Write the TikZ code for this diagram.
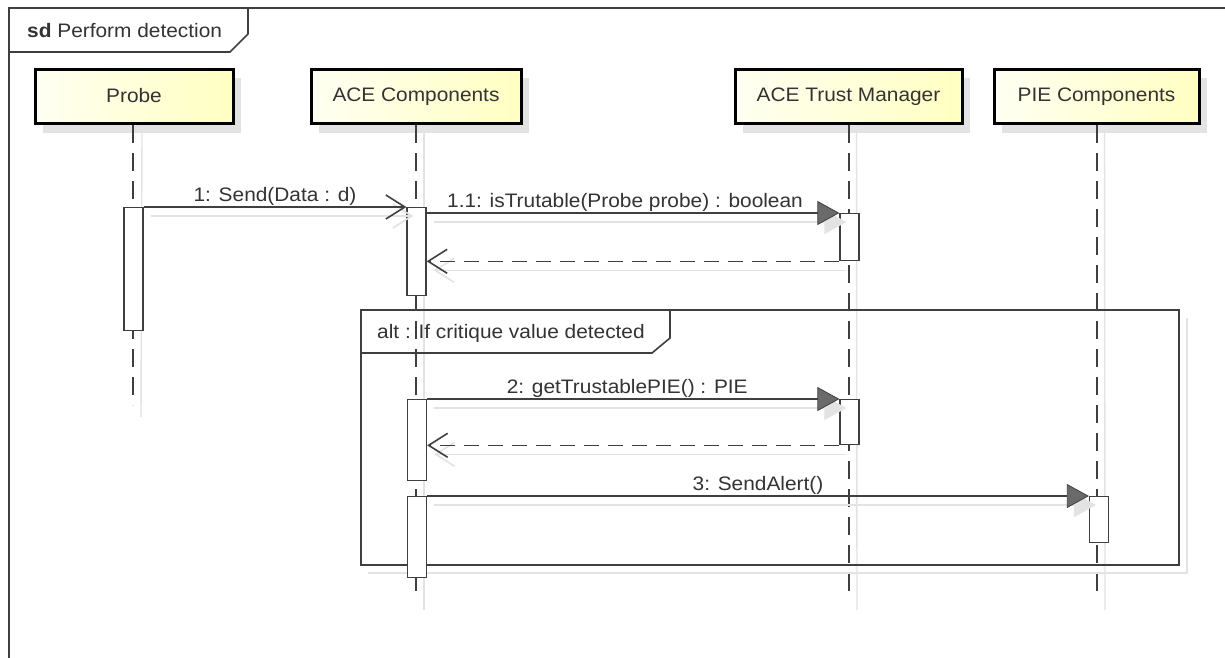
\documentclass[tikz,border=0pt]{standalone}
\usepackage{fontspec}
\setmainfont[FakeStretch=1.07]{Liberation Sans}
\usetikzlibrary{arrows.meta}

\definecolor{ink}{HTML}{3F3F3F}
\definecolor{txt}{HTML}{333333}
\definecolor{ghost}{HTML}{E3E3E3}
\definecolor{headL}{HTML}{FFFFF2}
\definecolor{headR}{HTML}{FFFFC2}
\definecolor{tipfill}{HTML}{6A6A6A}

\tikzset{
  lbl/.style={font=\fontsize{19.5}{22}\selectfont, text=txt, inner sep=0pt},
  head/.style={draw=black, line width=3pt, left color=headL, right color=headR,
    minimum height=54, inner sep=0pt, lbl},
  headshadow/.style={fill=ghost, draw=none},
  life/.style={draw=ink, line width=1.6pt, dash pattern=on 18pt off 10pt},
  lifeshadow/.style={draw=ghost, line width=1.4pt},
  act/.style={draw=ink, line width=1.3pt, fill=white, minimum width=19,
    inner sep=0pt, anchor=north},
  call/.style={draw=ink, line width=1.6pt,
    -{Triangle[length=22pt,width=24pt,fill=tipfill,color=ink,line width=0.8pt]}},
  callshadow/.style={draw=ghost, line width=1.6pt,
    -{Triangle[length=22pt,width=24pt,fill=ghost,color=ghost]},
    transform canvas={shift={(7,9)}}},
  send/.style={draw=ink, line width=1.6pt, -{Straight Barb[length=19pt,width=24pt]}},
  sendshadow/.style={draw=ghost, line width=1.6pt, -{Straight Barb[length=19pt,width=24pt]},
    transform canvas={shift={(7,9)}}},
  reply/.style={draw=ink, line width=1.6pt, dash pattern=on 15pt off 9pt,
    -{Straight Barb[length=19pt,width=24pt]}},
  replyshadow/.style={draw=ghost, line width=1.6pt, -{Straight Barb[length=19pt,width=24pt]},
    transform canvas={shift={(7,9)}}},
  msglbl/.style={lbl, midway, anchor=base, yshift=6pt},
  frameline/.style={draw=ink, line width=1.6pt},
  frameshadow/.style={draw=ghost, line width=1.4pt},
}

\begin{document}
\begin{tikzpicture}[x=1pt, y=-1pt]
\useasboundingbox (0,0) rectangle (1225,657);
\clip (0,0) rectangle (1225,657);
\fill[white] (0,0) rectangle (1225,657);

% outer interaction frame and its name tab
\node[frameline, anchor=north west, minimum width=1218, minimum height=700, inner sep=0pt]
  (sdframe) at (8,7) {};
\draw[frameline] (8,52) -- (230,52) -- (248,34) -- (248,7);
\node[lbl, anchor=base west] (sdname) at (27,37) {\textbf{sd} Perform detection};

% lifeline heads: shadows first
\fill[headshadow] (43,78) rectangle (241,133);
\fill[headshadow] (319,78) rectangle (529,133);
\fill[headshadow] (743,78) rectangle (970,133);
\fill[headshadow] (1002,78) rectangle (1207,133);

\node[head, minimum width=198] (probe) at (134,96.5) {\raisebox{2pt}{Probe}};
\node[head, minimum width=210] (ace)   at (416,96.5) {\raisebox{2pt}{ACE Components}};
\node[head, minimum width=227] (tm)    at (848.5,96.5) {\raisebox{2pt}{ACE Trust Manager}};
\node[head, minimum width=205] (pie)   at (1096.5,96.5) {\raisebox{2pt}{PIE Components}};

% lifeline ends
\coordinate (probeEnd) at (133,405);
\coordinate (aceEnd)   at (416,598);
\coordinate (tmEnd)    at (849,598);
\coordinate (pieEnd)   at (1097,598);

% lifeline shadows
\draw[lifeshadow] ([xshift=8pt,yshift=-8pt]probe.south) -- ([xshift=8pt,yshift=-12pt]probeEnd);
\draw[lifeshadow] ([xshift=8pt,yshift=-8pt]ace.south) -- ([xshift=8pt,yshift=-12pt]aceEnd);
\draw[lifeshadow] ([xshift=8pt,yshift=-8pt]tm.south) -- ([xshift=8pt,yshift=-12pt]tmEnd);
\draw[lifeshadow] ([xshift=8pt,yshift=-8pt]pie.south) -- ([xshift=8pt,yshift=-12pt]pieEnd);

% lifelines
\draw[life] (probe.south -| probeEnd) -- (probeEnd);
\draw[life] (ace.south -| aceEnd) -- (aceEnd);
\draw[life] (tm.south -| tmEnd) -- (tmEnd);
\draw[life] (pie.south -| pieEnd) -- (pieEnd);

% combined fragment "alt"
\draw[frameshadow] (368,573) -- (1187,573) -- (1187,318);
\node[frameline, anchor=north west, minimum width=818, minimum height=255, inner sep=0pt]
  (alt) at (360,309) {};
\draw[frameline] (alt.north west |- 0,353) -- (652,353) -- (670,338) -- (670,309);
\node[lbl, anchor=base west] (altname) at (377,338) {alt : If critique value detected};

% activation bars
\node[act, minimum height=123] (probeAct) at (133.5,207) {};
\node[act, minimum height=88]  (aceAct1)  at (416.5,207) {};
\node[act, minimum height=47]  (tmAct1)   at (849.5,213) {};
\node[act, minimum height=81]  (aceAct2)  at (417,399) {};
\node[act, minimum height=45]  (tmAct2)   at (849.5,399) {};
\node[act, minimum height=81]  (aceAct3)  at (417,496) {};
\node[act, minimum height=46]  (pieAct)   at (1099,496) {};

% message shadows
\draw[sendshadow]  (probeAct.north east) -- (aceAct1.north west);
\draw[callshadow]  (aceAct1.east |- tmAct1.north) -- (tmAct1.north west);
\draw[replyshadow] (tmAct1.south west) -- (aceAct1.east |- tmAct1.south);
\draw[callshadow]  (aceAct2.north east) -- (tmAct2.north west);
\draw[replyshadow] (tmAct2.south west) -- (aceAct2.east |- tmAct2.south);
\draw[callshadow]  (aceAct3.north east) -- (pieAct.north west);

% messages
\draw[send] (probeAct.north east) -- (aceAct1.north west)
  node[msglbl] {1: Send(Data : d)};
\draw[call] (aceAct1.east |- tmAct1.north) -- (tmAct1.north west)
  node[msglbl, xshift=-8pt] {1.1: isTrutable(Probe probe) : boolean};
\draw[reply] (tmAct1.south west) -- (aceAct1.east |- tmAct1.south);
\draw[call] (aceAct2.north east) -- (tmAct2.north west)
  node[msglbl, xshift=-6pt] {2: getTrustablePIE() : PIE};
\draw[reply] (tmAct2.south west) -- (aceAct2.east |- tmAct2.south);
\draw[call] (aceAct3.north east) -- (pieAct.north west)
  node[msglbl] {3: SendAlert()};
\end{tikzpicture}
\end{document}
